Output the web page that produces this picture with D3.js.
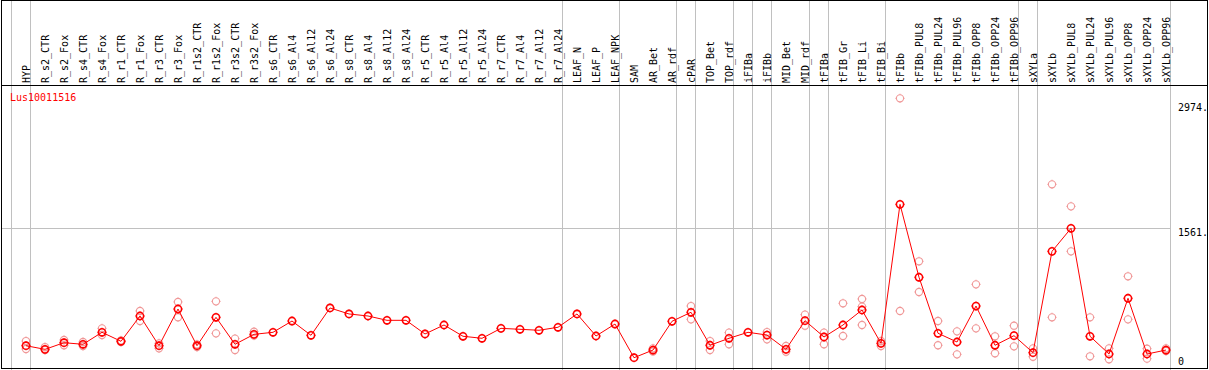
<!DOCTYPE html>
<html>
<head>
<meta charset="utf-8">
<script src="https://cdn.jsdelivr.net/npm/d3@7"></script>
<style>
  body { margin: 0; background: #fff; }
  text { font-family: "DejaVu Sans Mono", monospace; font-size: 10px; }
</style>
</head>
<body>
<div id="chart"></div>
<script>
// sample labels, one column each
const samples = ["HYP","R_s2_CTR","R_s2_Fox","R_s4_CTR","R_s4_Fox","R_r1_CTR","R_r1_Fox","R_r3_CTR","R_r3_Fox",
  "R_r1s2_CTR","R_r1s2_Fox","R_r3s2_CTR","R_r3s2_Fox","R_s6_CTR","R_s6_Al4","R_s6_Al12","R_s6_Al24",
  "R_s8_CTR","R_s8_Al4","R_s8_Al12","R_s8_Al24","R_r5_CTR","R_r5_Al4","R_r5_Al12","R_r5_Al24",
  "R_r7_CTR","R_r7_Al4","R_r7_Al12","R_r7_Al24","LEAF_N","LEAF_P","LEAF_NPK","SAM","AR_Bet","AR_rdf",
  "cPAR","TOP_Bet","TOP_rdf","iFIBa","iFIBb","MID_Bet","MID_rdf","tFIBa","tFIB_Gr","tFIB_Li","tFIB_Bi",
  "tFIBb","tFIBb_PUL8","tFIBb_PUL24","tFIBb_PUL96","tFIBb_OPP8","tFIBb_OPP24","tFIBb_OPP96",
  "sXYLa","sXYLb","sXYLb_PUL8","sXYLb_PUL24","sXYLb_PUL96","sXYLb_OPP8","sXYLb_OPP24","sXYLb_OPP96"];

// columns per tissue group (divider after each)
const groupSizes = [1,28,3,3,1,2,1,1,2,1,3,7,1,7];

const means = [230,189,264,246,382,280,567,230,646,230,552,246,359,382,510,348,658,590,567,518,518,
  363,465,337,314,427,416,405,439,590,340,476,94,181,507,609,235,314,382,351,189,514,329,465,635,257,
  1833,1006,371,272,680,235,344,151,1300,1561,337,136,768,136,181];

const repHigh = [283,215,295,272,427,290,624,257,726,245,733,310,389,null,null,null,null,null,null,null,null,
  null,null,null,null,null,null,null,null,null,null,null,null,200,null,680,283,378,null,385,227,582,378,711,760,283,
  3035,1187,510,393,926,337,457,200,2060,1810,552,200,1017,196,200];

const repLow = [193,180,235,227,351,272,510,200,552,215,370,181,345,null,null,null,null,null,null,null,null,
  null,null,null,null,null,null,null,null,null,null,null,null,165,null,529,181,246,null,302,162,457,246,340,465,227,
  624,839,235,132,427,144,223,105,552,1300,110,76,529,83,170];

const repMid = [null,null,null,null,null,null,null,null,null,null,null,null,null,null,null,null,null,null,null,null,null,
  null,null,null,null,null,null,null,null,null,null,null,null,null,null,null,null,null,null,null,null,null,null,null,673,null,
  null,null,null,null,null,null,null,null,null,null,null,null,null,null,null];

const yTicks = [0, 1561, 2974];
const geneName = "Lus10011516";

const W = 1209, H = 370;
const svg = d3.select("#chart").append("svg")
  .attr("width", W).attr("height", H);

const x = d3.scalePoint().domain(samples).range([26, 1166]);
const step = x.step();
const y = d3.scaleLinear().domain([0, 2974]).range([366, 103.7]);

// dividers between groups
let dividers = [x(samples[0]) - step + 4.5];
let acc = 0;
groupSizes.forEach(n => { acc += n; dividers.push(x(samples[acc - 1]) + 4.5); });

svg.selectAll("line.div").data(dividers).enter().append("line")
  .attr("x1", d => Math.floor(d) + 0.5).attr("x2", d => Math.floor(d) + 0.5)
  .attr("y1", 0).attr("y2", H)
  .attr("stroke", "#c0c0c0").attr("stroke-width", 1);

// horizontal grid at 1561
svg.append("line")
  .attr("x1", 1).attr("x2", 1170)
  .attr("y1", Math.round(y(1561)) + 0.5).attr("y2", Math.round(y(1561)) + 0.5)
  .attr("stroke", "#c0c0c0");

// frame + header line
svg.append("rect").attr("x", 1.5).attr("y", 0.5).attr("width", 1206).attr("height", 368)
  .attr("fill", "none").attr("stroke", "#000");
svg.append("line").attr("x1", 1).attr("x2", 1208).attr("y1", 85.5).attr("y2", 85.5)
  .attr("stroke", "#000");

// rotated sample labels
svg.selectAll("text.lab").data(samples).enter().append("text")
  .attr("transform", d => "translate(" + (x(d) + 3.5) + ",83) rotate(-90)")
  .attr("fill", "#000")
  .text(d => d);

// gene name
svg.append("text").attr("x", 10).attr("y", 101).attr("fill", "#ff0000").text(geneName);

// y tick labels on the right
svg.selectAll("text.yt").data(yTicks).enter().append("text")
  .attr("x", 1178)
  .attr("y", d => d === 0 ? 365 : y(d) + 7.5)
  .attr("fill", "#000")
  .text(d => d === 0 ? "0" : d + ".");

function marker(g, cx, cy, color, sw) {
  const m = g.append("g").attr("transform", "translate(" + cx + "," + cy + ")");
  m.append("circle").attr("r", 3.6).attr("fill", "none").attr("stroke", color).attr("stroke-width", sw);
  [[0,-1],[0,1],[-1,0],[1,0]].forEach(([dx, dy]) => {
    m.append("line")
      .attr("x1", dx * 3.6).attr("y1", dy * 3.6)
      .attr("x2", dx * 4.6).attr("y2", dy * 4.6)
      .attr("stroke", color).attr("stroke-width", 1);
  });
}

// replicate points
const reps = svg.append("g");
[repHigh, repLow, repMid].forEach(arr => {
  arr.forEach((v, i) => {
    if (v !== null) marker(reps, x(samples[i]), y(v), "#f09898", 1.1);
  });
});

// mean line
const line = d3.line().x((d, i) => x(samples[i])).y(d => y(d));
svg.append("path").datum(means).attr("d", line)
  .attr("fill", "none").attr("stroke", "#ff0000").attr("stroke-width", 1);

const mg = svg.append("g");
means.forEach((v, i) => marker(mg, x(samples[i]), y(v), "#ff0000", 1.6));
</script>
</body>
</html>
